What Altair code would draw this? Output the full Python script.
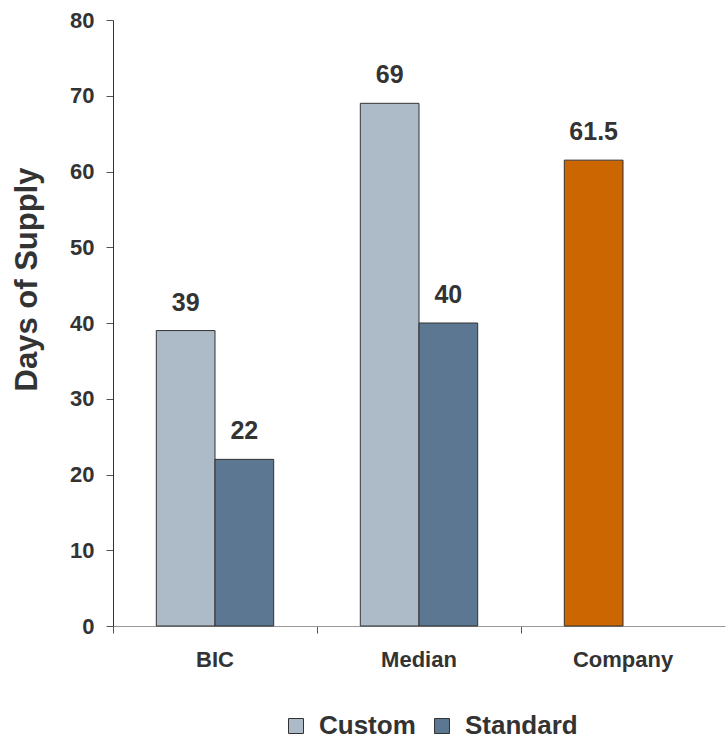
import altair as alt
import pandas as pd

categories = ["BIC", "Median", "Company"]
custom_values = [39, 69, None]
standard_values = [22, 40, None]
company_value = 61.5
series_names = ["Custom", "Standard"]
color_keys = ["Custom", "Standard", "Company"]
color_range = ["#ADBAC8", "#5B7791", "#CC6600"]

rows = []
for c, cv, sv in zip(categories, custom_values, standard_values):
    if cv is not None:
        rows.append({"category": c, "slot": "Custom", "key": "Custom", "value": cv})
    if sv is not None:
        rows.append({"category": c, "slot": "Standard", "key": "Standard", "value": sv})
rows.append({"category": "Company", "slot": "Custom", "key": "Company", "value": company_value})
df = pd.DataFrame(rows)

FONT = "Liberation Sans"
TXT = "#333333"

x_enc = alt.X(
    "category:N",
    sort=categories,
    scale=alt.Scale(paddingInner=0, paddingOuter=0),
    axis=alt.Axis(
        title=None,
        bandPosition=0,
        labelFont=FONT,
        labelFontSize=22,
        labelFontWeight="bold",
        labelColor=TXT,
        labelPadding=16,
        labelAngle=0,
        tickSize=7,
        tickColor="#555555",
        domainColor="#999999",
        ticks=True,
    ),
)
xoff_enc = alt.XOffset(
    "slot:N",
    sort=series_names,
    scale=alt.Scale(domain=series_names, paddingInner=0, paddingOuter=0.7377),
)
y_enc = alt.Y(
    "value:Q",
    scale=alt.Scale(domain=[0, 80], nice=False),
    axis=alt.Axis(
        title="Days of Supply",
        titleFont=FONT,
        titleFontSize=31,
        titleFontWeight="bold",
        titleColor=TXT,
        titleAngle=-90,
        titleX=-86,
        titleY=259,
        titleAlign="center",
        titleBaseline="middle",
        values=list(range(0, 81, 10)),
        labelFont=FONT,
        labelFontSize=22,
        labelFontWeight="bold",
        labelColor=TXT,
        labelPadding=12,
        tickSize=7,
        tickColor="#555555",
        domainColor="#333333",
        grid=False,
    ),
)

bars = alt.Chart(df).mark_bar(stroke="#333333", strokeWidth=1).encode(
    x=x_enc,
    xOffset=xoff_enc,
    y=y_enc,
    fill=alt.Fill(
        "key:N",
        scale=alt.Scale(domain=color_keys, range=color_range),
        legend=alt.Legend(
            values=series_names,
            title=None,
            orient="none",
            legendX=170,
            legendY=693,
            direction="horizontal",
            symbolType="square",
            symbolSize=225,
            symbolStrokeColor="#333333",
            symbolStrokeWidth=1,
            labelFont=FONT,
            labelFontSize=26,
            labelFontWeight="bold",
            labelColor=TXT,
            labelOffset=10,
            columnPadding=13,
        ),
    ),
)

labels = alt.Chart(df).mark_text(
    font=FONT, fontSize=25, fontWeight="bold", color=TXT, baseline="alphabetic", dy=-20
).encode(
    x=alt.X("category:N", sort=categories),
    xOffset=alt.XOffset("slot:N", sort=series_names),
    y="value:Q",
    text=alt.Text("value:Q", format="~g"),
)

chart = (
    alt.layer(bars, labels)
    .properties(
        width=612,
        height=606,
        autosize=alt.AutoSizeParams(type="none"),
        padding={"left": 113, "top": 20, "right": 1, "bottom": 111},
    )
    .configure_view(stroke=None)
)

chart.save("out.html", embed_options={"renderer": "svg", "actions": False})
